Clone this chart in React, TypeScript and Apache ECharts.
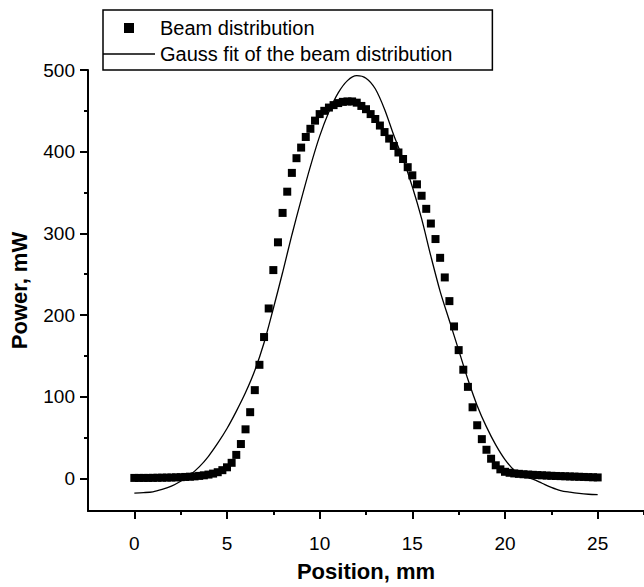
import React, { useEffect, useRef } from "react";
import * as echarts from "echarts";

// Beam distribution (measured squares), position in mm, power in mW
const beamPosition = [
  0, 0.25, 0.5, 0.75, 1, 1.25, 1.5, 1.75, 2, 2.25,
  2.5, 2.75, 3, 3.25, 3.5, 3.75, 4, 4.25, 4.5, 4.75,
  5, 5.25, 5.5, 5.75, 6, 6.25, 6.5, 6.75, 7, 7.25,
  7.5, 7.75, 8, 8.25, 8.5, 8.75, 9, 9.25, 9.5, 9.75,
  10, 10.25, 10.5, 10.75, 11, 11.25, 11.5, 11.75, 12, 12.25,
  12.5, 12.75, 13, 13.25, 13.5, 13.75, 14, 14.25, 14.5, 14.75,
  15, 15.25, 15.5, 15.75, 16, 16.25, 16.5, 16.75, 17, 17.25,
  17.5, 17.75, 18, 18.25, 18.5, 18.75, 19, 19.25, 19.5, 19.75,
  20, 20.25, 20.5, 20.75, 21, 21.25, 21.5, 21.75, 22, 22.25,
  22.5, 22.75, 23, 23.25, 23.5, 23.75, 24, 24.25, 24.5, 24.75,
  25,
];
const beamPower = [
  0.5, 0.5, 0.5, 0.5, 0.6, 0.7, 0.8, 0.9, 1.0, 1.2,
  1.4, 1.7, 2.0, 2.4, 3.0, 3.7, 4.6, 5.8, 7.5, 10,
  13.5, 19, 28.7, 42, 60, 81, 108, 139, 173, 208,
  255, 289, 325, 351, 374, 392, 405, 418, 428, 438,
  446, 450, 454, 457, 459.5, 461, 461.5, 461.5, 460, 456,
  452, 446, 440, 432, 424, 416, 407, 399, 391, 381,
  371, 360, 346, 330, 312, 293, 270, 246, 217, 186,
  157, 133, 112, 87, 65, 48, 35, 24, 16, 11,
  8, 6.8, 6, 5.5, 5, 4.6, 4.3, 4, 3.7, 3.4,
  3.1, 2.9, 2.7, 2.5, 2.3, 2.1, 1.9, 1.7, 1.5, 1.3,
  1.1,
];

// Gauss fit curve
const fitPosition = [
  0, 0.5, 1, 1.5, 2, 2.5, 3, 3.5, 4, 4.5,
  5, 5.5, 6, 6.5, 7, 7.5, 8, 8.5, 9, 9.5,
  10, 10.5, 11, 11.5, 12, 12.5, 13, 13.5, 14, 14.5,
  15, 15.5, 16, 16.5, 17, 17.5, 18, 18.5, 19, 19.5,
  20, 20.5, 21, 21.5, 22, 22.5, 23, 23.5, 24, 24.5,
  25,
];
const fitPower = [
  -18, -17.5, -16.5, -13.5, -9.5, -3.5, 4, 14, 27, 43,
  61, 82, 105, 132, 166, 208, 252, 298, 341, 382,
  419, 449, 472, 487, 493, 490, 477, 452, 420, 391,
  357, 318, 272, 229, 193, 157, 121, 89, 63, 41,
  23, 10, 3, -1, -6, -11, -15, -17, -18.5, -19.5,
  -20,
];

const xMajorTicks = [0, 5, 10, 15, 20, 25];
const xMinorTicks = [2.5, 7.5, 12.5, 17.5, 22.5, 27.5];
const yMajorTicks = [0, 100, 200, 300, 400, 500];
const yMinorTicks = [50, 150, 250, 350, 450];

const FONT = "'Liberation Sans', Arial, Helvetica, sans-serif";

export default function App() {
  const ref = useRef<HTMLDivElement>(null);

  useEffect(() => {
    if (!ref.current) return;
    const chart = echarts.init(ref.current, undefined, { renderer: "svg" });

    const beamData = beamPosition.map((x, i) => [x, beamPower[i]]);
    const fitData = fitPosition.map((x, i) => [x, fitPower[i]]);

    const axisLine = { show: true, onZero: false, lineStyle: { color: "#000", width: 2 } };
    const hiddenLine = { show: false, onZero: false };

    chart.setOption({
      animation: false,
      backgroundColor: "#fff",
      grid: { left: 87, right: -1, top: 70, bottom: 70, containLabel: false },
      legend: {
        orient: "vertical",
        left: 103,
        top: 10,
        padding: [8, 40, 6, 0],
        itemGap: 6,
        itemWidth: 52,
        itemHeight: 10,
        borderColor: "#000",
        borderWidth: 1.5,
        selectedMode: false,
        textStyle: { fontFamily: FONT, fontSize: 20, color: "#000", lineHeight: 20 },
        data: [
          {
            name: "Beam distribution",
            icon: "path://M0 0H10V10H0Z",
            itemStyle: { color: "#000", opacity: 1 },
          },
          {
            name: "Gauss fit of the beam distribution",
            icon: "path://M0 0H52V1.3H0Z",
            itemStyle: { color: "#000", opacity: 1 },
          },
        ],
      },
      xAxis: [
        {
          type: "value",
          min: -2.5,
          max: 27.5,
          interval: 2.5,
          position: "bottom",
          axisLine,
          splitLine: { show: false },
          axisTick: {
            show: true,
            length: 8,
            lineStyle: { color: "#000", width: 2 },
            customValues: xMajorTicks,
          },
          axisLabel: {
            margin: 23,
            fontFamily: FONT,
            fontSize: 19,
            color: "#000",
            customValues: xMajorTicks,
          },
          name: "Position, mm",
          nameLocation: "middle",
          nameGap: 49,
          nameTextStyle: { fontFamily: FONT, fontSize: 22, fontWeight: "bold", color: "#000" },
        },
        {
          type: "value",
          min: -2.5,
          max: 27.5,
          interval: 2.5,
          position: "bottom",
          axisLine: hiddenLine,
          splitLine: { show: false },
          axisTick: {
            show: true,
            length: 4,
            lineStyle: { color: "#000", width: 2 },
            customValues: xMinorTicks,
          },
          axisLabel: { show: false },
        },
      ],
      yAxis: [
        {
          type: "value",
          min: -40,
          max: 500,
          position: "left",
          axisLine,
          splitLine: { show: false },
          axisTick: {
            show: true,
            length: 8,
            lineStyle: { color: "#000", width: 2 },
            customValues: yMajorTicks,
          },
          axisLabel: {
            margin: 13,
            fontFamily: FONT,
            fontSize: 19,
            color: "#000",
            customValues: yMajorTicks,
          },
          name: "Power, mW",
          nameLocation: "middle",
          nameGap: 58,
          nameTextStyle: { fontFamily: FONT, fontSize: 22, fontWeight: "bold", color: "#000" },
        },
        {
          type: "value",
          min: -40,
          max: 500,
          position: "left",
          axisLine: hiddenLine,
          splitLine: { show: false },
          axisTick: {
            show: true,
            length: 4,
            lineStyle: { color: "#000", width: 2 },
            customValues: yMinorTicks,
          },
          axisLabel: { show: false },
        },
      ],
      series: [
        {
          name: "Beam distribution",
          type: "scatter",
          symbol: "rect",
          symbolSize: 8,
          itemStyle: { color: "#000", opacity: 1 },
          data: beamData,
          z: 3,
        },
        {
          name: "Gauss fit of the beam distribution",
          type: "line",
          symbol: "none",
          smooth: 0.3,
          lineStyle: { color: "#000", width: 1.3 },
          itemStyle: { color: "#000" },
          data: fitData,
          z: 2,
        },
      ],
    });

    return () => chart.dispose();
  }, []);

  return (
    <div
      ref={ref}
      style={{ position: "absolute", left: 0, top: 0, width: 644, height: 587 }}
    />
  );
}
